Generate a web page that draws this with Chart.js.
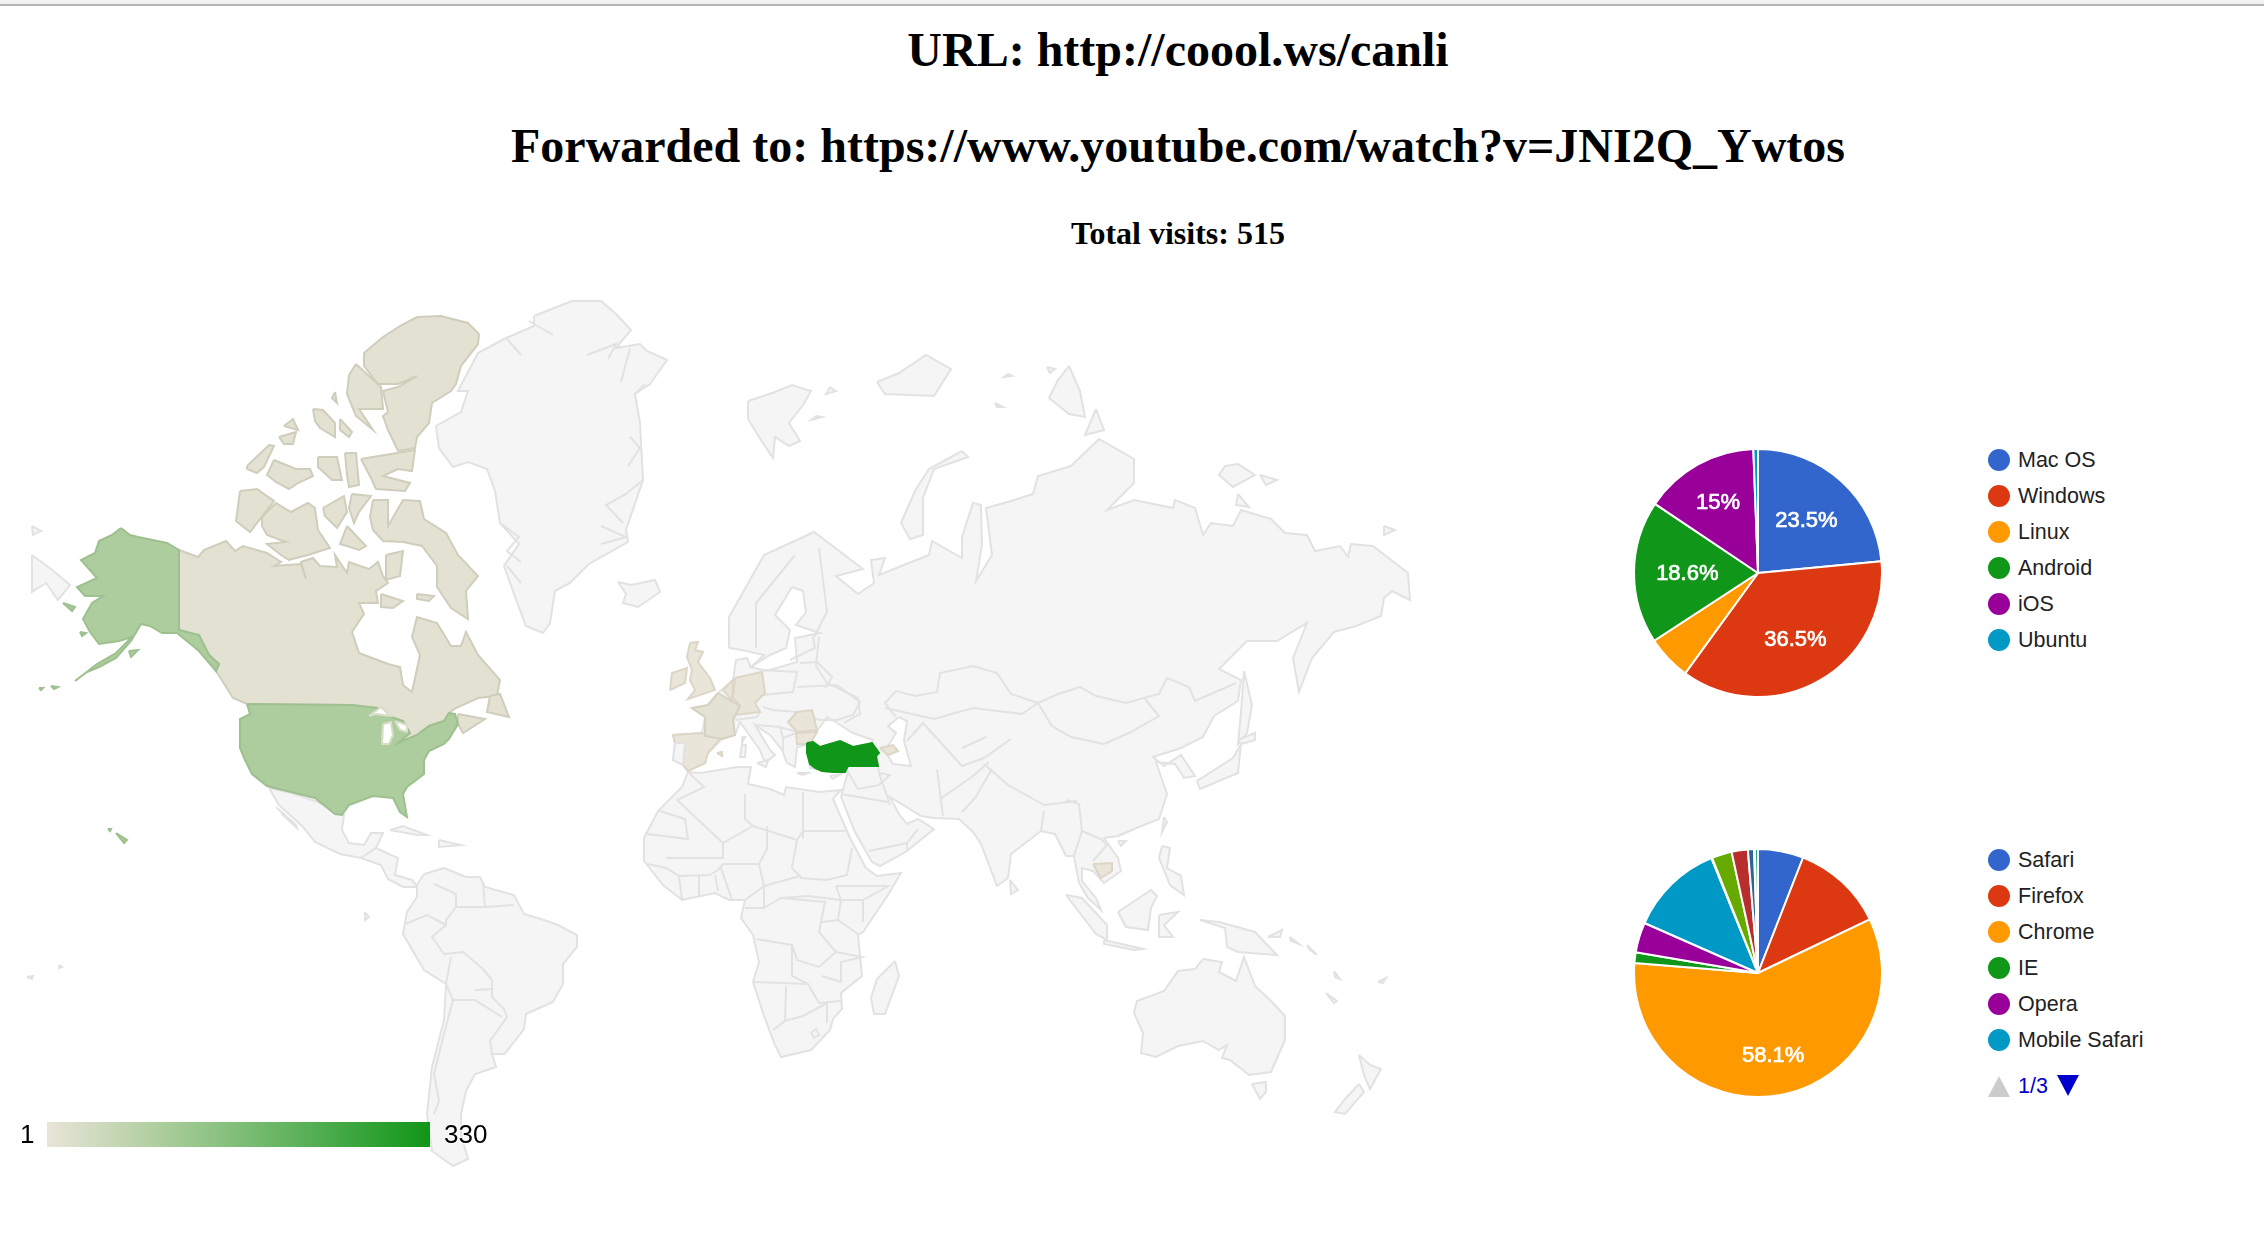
<!DOCTYPE html>
<html>
<head>
<meta charset="utf-8">
<title>coool.ws/canli</title>
<script src="https://cdn.jsdelivr.net/npm/chart.js@4"></script>
<style>
  html, body { margin: 0; padding: 0; background: #fff; }
  body { position: relative; width: 2264px; height: 1244px; overflow: hidden; }
  .topline { position: absolute; left: 0; top: 0; width: 2264px; height: 4px; background: #f1f1f1; border-bottom: 2px solid #b5b5b5; }
  .heading { position: absolute; left: 0; width: 2356px; text-align: center; font-family: "Liberation Serif", serif; font-weight: bold; color: #000; white-space: nowrap; }
  canvas { position: absolute; display: block; }
  .legend { position: absolute; left: 1988px; font: 21.5px "Liberation Sans", sans-serif; color: #222; }
  .legend-item { position: absolute; left: 0; height: 36px; display: flex; align-items: center; white-space: nowrap; }
  .legend-swatch { width: 22px; height: 22px; border-radius: 50%; margin-right: 8px; }
  .pager { position: absolute; left: 1988px; top: 1073px; height: 28px; font: 21.5px "Liberation Sans", sans-serif; color: #0000cc; }
  .tri { position: absolute; width: 0; height: 0; border-left: 11px solid transparent; border-right: 11px solid transparent; }
  .scale-bar { position: absolute; left: 47px; top: 1122px; width: 383px; height: 25px; background: linear-gradient(to right, #e9e4d9, #b0cfa0 28%, #74ba6e 55%, #109618); }
  .scale-num { position: absolute; top: 1119px; font: 26px "Liberation Sans", sans-serif; color: #000; line-height: 30px; text-shadow: 0 0 3px #fff, 0 0 3px #fff, 0 0 3px #fff; }
</style>
</head>
<body>
<div class="topline"></div>
<div class="heading" style="top:22px;font-size:48px">URL: http://coool.ws/canli</div>
<div class="heading" style="top:118px;font-size:48px">Forwarded to: https://www.youtube.com/watch?v=JNI2Q_Ywtos</div>
<div class="heading" style="top:215px;font-size:32px">Total visits: 515</div>

<canvas id="map" width="1420" height="900" style="left:0;top:280px"></canvas>
<div class="scale-num" style="left:20px">1</div>
<div class="scale-bar"></div>
<div class="scale-num" style="left:444px">330</div>

<canvas id="osPie" width="250" height="250" style="left:1633px;top:448px"></canvas>
<div class="legend" id="osLegend"></div>
<canvas id="browserPie" width="250" height="250" style="left:1633px;top:848px"></canvas>
<div class="legend" id="browserLegend"></div>
<div class="pager">
  <div class="tri" style="left:0;top:3px;border-bottom:21px solid #ccc"></div>
  <span style="position:absolute;left:30px;top:1px">1/3</span>
  <div class="tri" style="left:69px;top:2px;border-top:21px solid #0000cc"></div>
</div>

<script>
// pie values
const osLabels = ["Mac OS", "Windows", "Linux", "Android", "iOS", "Ubuntu"];
const osValues = [23.5, 36.5, 5.8, 18.6, 15, 0.6];
const browserLabels = ["Safari", "Firefox", "Chrome", "IE", "Opera", "Mobile Safari"];
const browserValues = [5.9, 11.9, 58.1, 1.4, 3.9, 12.2, 0.1, 2.6, 2.1, 0.8, 0.1, 0.4];
const PIE_COLORS = ["#3366cc", "#dc3912", "#ff9900", "#109618", "#990099", "#0099c6",
  "#dd4477", "#66aa00", "#b82e2e", "#316395", "#994499", "#22aa99"];

// map outlines, in map units (same grid as the picture)
const alaska = [[121,528],[130,535],[138,537],[167,543],[179,550],[179,630],[199,635],[209,655],[219,664],[216,671],[199,651],[177,633],[162,633],[150,626],[141,624],[131,641],[116,658],[99,667],[87,672],[75,681],[97,664],[116,653],[132,637],[119,641],[99,644],[90,632],[83,619],[92,603],[103,596],[85,596],[77,587],[97,578],[81,560],[95,553],[99,541],[112,535]];
const usa = [[247,704],[352,705],[377,708],[388,716],[403,721],[410,733],[398,743],[417,735],[429,726],[444,721],[449,713],[455,714],[458,724],[449,739],[444,744],[429,751],[424,760],[424,774],[407,787],[403,794],[407,817],[400,812],[393,798],[373,796],[349,805],[342,815],[335,814],[315,798],[291,792],[267,786],[252,774],[245,760],[240,748],[240,719],[250,714]];
const usaIslands = [
  [[129,651],[138,650],[131,657]], [[63,603],[75,607],[72,611]], [[39,688],[43,688],[41,690]],
  [[51,686],[58,687],[54,689]], [[80,632],[86,633],[82,636]],
  [[116,833],[127,840],[124,843]], [[108,829],[111,829],[110,831]],
];
const canadaMain = [[179,550],[198,557],[204,550],[226,541],[235,551],[243,546],[267,553],[281,562],[274,566],[301,564],[306,579],[301,562],[313,558],[320,566],[337,567],[335,555],[347,573],[349,562],[369,569],[378,562],[383,576],[388,583],[376,591],[378,603],[359,603],[364,614],[352,632],[359,653],[388,664],[400,667],[403,685],[412,692],[420,655],[412,637],[417,617],[437,623],[451,646],[461,646],[466,632],[478,655],[500,680],[497,696],[478,698],[456,708],[449,713],[444,721],[429,726],[417,735],[398,743],[410,733],[403,721],[388,716],[377,708],[352,705],[247,704],[233,698],[216,671],[219,664],[209,655],[199,635],[179,630]];
const canadaIslands = [
  [[417,317],[441,316],[468,323],[479,334],[478,344],[461,366],[456,384],[451,391],[432,403],[429,423],[417,437],[415,448],[398,451],[388,430],[383,416],[388,412],[383,391],[398,387],[417,376],[398,384],[378,384],[364,366],[364,353],[383,337],[400,326]],
  [[356,364],[369,376],[381,387],[383,409],[359,409],[373,430],[356,416],[347,394],[349,375]],
  [[335,392],[337,403],[332,398]],
  [[313,409],[323,410],[335,423],[335,437],[320,428],[315,421]],
  [[340,419],[352,432],[349,437],[340,430]],
  [[284,426],[293,419],[298,430]],
  [[279,437],[296,432],[293,444],[284,444]],
  [[247,466],[269,445],[274,446],[264,467],[257,473],[247,469]],
  [[274,460],[296,469],[310,469],[313,476],[298,483],[289,489],[276,482],[267,475]],
  [[318,457],[337,457],[342,480],[332,480],[318,467]],
  [[345,453],[356,453],[359,485],[349,487],[347,475]],
  [[361,459],[415,450],[412,471],[398,469],[383,476],[410,483],[405,491],[376,489],[371,478]],
  [[240,491],[257,489],[274,501],[250,532],[236,521]],
  [[262,517],[276,503],[291,512],[308,503],[315,508],[318,530],[330,548],[308,555],[289,560],[281,555],[267,544],[286,542],[267,535],[262,526]],
  [[323,508],[344,496],[347,512],[337,528],[325,516]],
  [[352,494],[371,496],[359,512],[354,523],[349,508]],
  [[347,526],[366,546],[359,550],[347,546],[340,544]],
  [[373,500],[388,500],[388,526],[403,500],[420,501],[424,519],[446,533],[458,555],[478,576],[466,591],[468,619],[451,608],[437,587],[437,566],[422,546],[403,542],[383,541],[373,530],[370,517]],
  [[386,555],[403,551],[400,576],[386,580]],
  [[381,594],[403,601],[393,608],[381,607]],
  [[417,594],[434,596],[429,601],[417,599]],
  [[458,714],[485,719],[463,733],[458,724]],
  [[490,696],[500,694],[509,717],[487,712]],
];
const greatLakes = [
  [[369,716],[381,707],[390,716],[376,714]],
  [[383,724],[391,722],[393,735],[389,744],[382,744]],
  [[395,721],[407,725],[407,732],[400,730]],
];
const greenland = [[534,316],[572,301],[601,301],[616,314],[631,330],[616,348],[640,344],[647,351],[667,360],[650,384],[635,394],[640,423],[643,480],[626,530],[628,542],[589,564],[570,583],[555,591],[550,623],[543,633],[526,626],[514,594],[504,566],[519,544],[500,523],[495,491],[487,469],[468,462],[453,467],[439,448],[436,426],[461,412],[468,391],[458,391],[478,353],[504,339],[534,326]];
const iceland = [[618,582],[631,585],[655,580],[660,592],[638,607],[623,603],[626,594]];
const mexico = [[269,788],[291,793],[318,802],[337,813],[344,815],[342,830],[349,843],[364,845],[371,833],[383,833],[376,848],[366,857],[361,858],[340,854],[315,842],[303,827],[279,805]];
const centralAmerica = [[361,858],[376,848],[398,858],[395,875],[412,880],[418,887],[403,887],[388,879],[381,865]];
const southAmerica = [[444,868],[466,877],[480,877],[485,887],[514,895],[524,914],[541,919],[558,925],[577,935],[577,947],[563,964],[563,984],[553,1002],[526,1014],[524,1029],[507,1051],[504,1054],[492,1054],[496,1067],[475,1074],[466,1091],[461,1114],[461,1134],[468,1159],[453,1166],[432,1151],[427,1114],[432,1067],[444,1020],[446,984],[424,970],[403,934],[407,912],[417,897],[417,885],[424,874]];
const eurasia = [[729,648],[729,617],[764,555],[814,532],[863,569],[836,576],[858,594],[874,583],[871,560],[885,558],[879,575],[929,555],[932,541],[962,558],[962,537],[973,503],[981,505],[982,545],[976,581],[992,555],[986,508],[1011,501],[1033,494],[1038,476],[1071,466],[1099,439],[1134,459],[1134,483],[1107,510],[1134,500],[1173,508],[1175,500],[1195,508],[1203,535],[1211,523],[1233,526],[1241,510],[1271,519],[1285,533],[1307,535],[1315,551],[1340,546],[1348,557],[1351,544],[1373,546],[1408,573],[1410,600],[1392,591],[1384,598],[1381,616],[1356,626],[1334,632],[1312,658],[1299,692],[1293,658],[1307,623],[1277,641],[1247,641],[1219,669],[1241,680],[1238,701],[1214,716],[1203,737],[1181,748],[1153,757],[1164,766],[1181,755],[1195,776],[1184,778],[1175,764],[1156,762],[1167,794],[1159,819],[1134,829],[1118,836],[1104,838],[1118,858],[1121,871],[1104,883],[1093,871],[1082,868],[1082,881],[1096,898],[1101,910],[1088,898],[1079,883],[1074,856],[1066,856],[1055,834],[1041,831],[1011,854],[1008,878],[997,886],[981,844],[973,832],[959,819],[934,818],[921,816],[890,797],[899,814],[907,824],[918,819],[934,829],[907,851],[880,866],[872,862],[855,832],[841,797],[848,772],[810,768],[807,745],[797,747],[795,767],[787,763],[782,750],[770,735],[755,725],[770,750],[775,755],[765,763],[760,750],[740,722],[735,735],[722,739],[708,753],[705,763],[688,771],[683,765],[673,760],[675,743],[673,735],[702,733],[705,717],[692,708],[708,705],[718,693],[733,680],[736,660],[747,658],[751,667],[764,655],[742,650]];
const africa = [[688,772],[701,773],[737,767],[751,767],[748,784],[770,789],[784,795],[786,787],[819,792],[841,790],[833,799],[850,838],[866,868],[877,876],[901,873],[888,895],[863,932],[858,935],[862,976],[841,993],[842,1009],[833,1019],[830,1030],[811,1050],[781,1057],[775,1045],[764,1016],[753,982],[759,962],[753,935],[741,918],[745,900],[729,900],[715,893],[682,900],[663,885],[644,861],[644,838],[658,811],[682,787]];
const australia = [[1203,959],[1222,962],[1219,972],[1236,981],[1244,957],[1255,986],[1271,1001],[1285,1016],[1285,1040],[1271,1072],[1249,1075],[1230,1060],[1222,1058],[1227,1045],[1219,1050],[1203,1041],[1178,1046],[1156,1057],[1141,1053],[1143,1033],[1134,1013],[1137,1001],[1164,991],[1178,971],[1195,969]];
const otherIslands = [
  [[32,555],[51,569],[70,585],[58,600],[46,583],[32,592]], [[32,526],[41,531],[33,535]],
  [[390,830],[403,826],[427,835],[417,835]], [[439,840],[461,845],[439,847]],
  [[365,912],[369,917],[365,920]], [[27,977],[33,976],[32,979]], [[59,965],[62,967],[59,968]],
  [[748,401],[775,392],[792,385],[811,391],[803,405],[789,423],[800,441],[789,446],[775,437],[773,458],[759,437],[748,419]],
  [[877,382],[899,373],[926,355],[951,369],[934,396],[885,394]],
  [[1069,366],[1080,391],[1085,417],[1069,414],[1049,398],[1058,380]],
  [[1096,409],[1104,430],[1085,435]],
  [[962,451],[968,457],[934,469],[923,498],[923,535],[910,539],[901,523],[915,491],[929,469]],
  [[1225,466],[1238,464],[1255,475],[1233,487],[1219,475]], [[1260,475],[1277,480],[1266,485]],
  [[1384,526],[1395,530],[1384,535]], [[830,387],[836,391],[826,394]], [[1047,367],[1055,369],[1050,373]],
  [[816,416],[822,417],[811,420]], [[1008,374],[1012,376],[1004,377]], [[995,403],[1003,407],[997,407]],
  [[1238,494],[1249,507],[1236,505]],
  [[1244,671],[1252,705],[1247,733],[1238,744],[1241,712]],
  [[1238,740],[1255,733],[1255,740],[1241,744]],
  [[1241,744],[1238,773],[1200,789],[1197,781],[1233,758]],
  [[1164,817],[1167,822],[1162,832]], [[1118,841],[1126,841],[1121,846]],
  [[1162,846],[1170,848],[1167,868],[1181,876],[1184,895],[1170,885],[1159,858]],
  [[1118,912],[1151,890],[1157,896],[1151,908],[1148,930],[1126,927]],
  [[1066,895],[1082,898],[1107,925],[1107,940],[1096,934]],
  [[1104,940],[1143,949],[1134,950],[1104,944]],
  [[1159,915],[1178,912],[1164,925],[1173,937],[1159,937]],
  [[1200,920],[1219,922],[1255,932],[1277,955],[1263,954],[1238,952],[1227,947],[1225,928]],
  [[1268,937],[1282,930],[1280,937]], [[1290,937],[1299,944],[1291,941]], [[1307,945],[1317,955],[1310,950]],
  [[1010,880],[1018,890],[1011,894]],
  [[895,961],[899,976],[885,1014],[874,1014],[871,998],[877,979]],
  [[1252,1084],[1266,1082],[1266,1092],[1260,1099]],
  [[1359,1055],[1370,1065],[1381,1069],[1370,1089],[1364,1075]],
  [[1359,1084],[1364,1092],[1345,1114],[1335,1112],[1345,1099]],
  [[1326,993],[1337,1001],[1334,1003]], [[1378,982],[1386,978],[1383,983]], [[1334,971],[1340,979],[1335,977]],
  [[757,763],[768,760],[766,767]], [[742,745],[746,745],[745,757],[740,757]], [[742,737],[745,737],[742,743]],
  [[797,773],[808,773],[803,775]], [[830,776],[841,774],[833,779]],
];
const innerSeas = [
  [[792,587],[803,591],[806,612],[796,625],[820,633],[795,638],[797,662],[767,671],[751,667],[770,655],[786,648],[790,630],[775,615]],
  [[820,727],[827,717],[837,723],[853,733],[873,740],[870,744],[853,747],[840,741],[820,747],[813,742],[812,735]],
  [[899,717],[907,721],[904,741],[911,766],[893,764],[885,751],[896,733],[888,726]],
];
const uk = [[690,643],[698,642],[695,650],[703,652],[698,662],[710,678],[715,690],[688,699],[695,690],[690,680],[692,670],[687,657]];
const ireland = [[670,690],[672,673],[687,668],[685,683]];
const france = [[718,693],[740,706],[733,720],[735,735],[722,739],[705,736],[705,717],[692,708],[708,705]];
const benelux = [[723,690],[733,680],[732,700]];
const germany = [[735,678],[762,672],[765,693],[755,703],[760,712],[735,715],[740,706],[733,698]];
const spain = [[673,735],[702,733],[720,739],[708,753],[705,763],[688,771],[683,765],[685,743],[675,743]];
const portugal = [[675,743],[685,743],[683,765],[673,760]];
const romania = [[797,712],[812,710],[817,730],[797,732],[788,722]];
const bulgaria = [[796,733],[817,732],[810,744],[797,744]];
const caucasus = [[880,748],[893,745],[898,751],[888,755]];
const cambodia = [[1093,864],[1112,863],[1112,871],[1101,878]];
const balearic = [[717,753],[722,752],[722,756]];
const turkey = [[807,743],[813,742],[820,747],[840,741],[853,747],[872,743],[879,753],[876,756],[878,766],[848,766],[845,772],[833,772],[822,771],[815,768],[810,764],[807,753]];

// country borders and fjords that are only lines
const greenlandLines = [
  [[529,321],[553,335]], [[507,339],[521,355]], [[587,355],[616,344],[608,359]], [[630,348],[621,382]],
  [[635,394],[645,384]], [[630,437],[640,448],[628,466]], [[643,480],[626,494],[606,505],[623,523]],
  [[601,526],[626,537],[601,544]], [[500,523],[519,537],[507,551],[521,562]], [[507,566],[521,583]],
];
const americaBorders = [
  [[276,807],[296,825],[297,828],[281,813]],
  [[434,884],[456,894],[456,907],[446,920],[446,925],[432,937],[444,954],[463,952],[483,969],[492,980],[492,997],[504,1009],[507,1017],[490,1041],[492,1054]],
  [[456,907],[485,907],[483,884]], [[485,907],[514,905]],
  [[405,924],[427,915],[446,925]],
  [[446,984],[451,957]],
  [[446,984],[453,1000],[444,1034],[434,1074],[439,1101],[434,1114]],
  [[453,1000],[475,1000],[502,1017]],
  [[475,990],[492,989]],
];
const africaBorders = [
  [[677,800],[723,843],[753,826],[797,840],[803,831],[847,831]],
  [[803,792],[803,839]],
  [[745,794],[745,819],[753,826]],
  [[677,800],[704,787],[688,772]],
  [[647,834],[688,839],[685,819],[660,811]],
  [[723,843],[723,858],[666,858]],
  [[767,826],[767,849],[759,864],[723,864],[718,870]],
  [[797,840],[792,868],[800,876],[764,886],[759,864]],
  [[852,848],[847,875],[827,880],[800,878]],
  [[764,886],[764,908],[745,908]],
  [[836,886],[841,900],[863,900],[888,886],[836,886]],
  [[781,898],[825,902],[819,932],[836,952],[819,967],[797,960],[792,945],[756,939]],
  [[764,908],[781,898],[808,896],[841,900]],
  [[841,900],[838,920],[858,934]], [[822,922],[838,920]], [[863,900],[863,922]],
  [[836,952],[862,957],[841,962],[841,982],[822,976]],
  [[753,982],[808,984],[819,1003],[841,1001]],
  [[792,945],[792,976],[808,984]],
  [[786,986],[785,1021],[773,1030]],
  [[785,1021],[803,1016],[827,1003],[827,1023]],
  [[811,1033],[816,1029],[819,1035],[814,1038],[811,1033]],
  [[647,864],[666,868],[679,876],[682,900]],
  [[679,876],[710,875],[718,870]],
  [[699,876],[699,896]], [[715,875],[718,891]], [[721,868],[732,900]], [[745,900],[764,886]],
];
const asiaBorders = [
  [[819,637],[816,666],[827,683],[858,698],[860,714],[844,723]],
  [[896,717],[885,703],[896,691],[915,696],[937,692],[940,673],[973,666],[997,673],[1011,694],[1038,703],[1058,694],[1080,687],[1096,696],[1126,703],[1159,694],[1167,678],[1189,687],[1195,701],[1236,683]],
  [[1038,703],[1052,726],[1071,737],[1104,744],[1129,733],[1159,716],[1145,699]],
  [[885,708],[934,719],[973,708],[1022,714],[1038,703]],
  [[907,741],[923,723],[962,766],[984,758],[1011,739]],
  [[986,737],[962,748]],
  [[937,769],[943,816]],
  [[879,773],[890,805]],
  [[940,799],[973,776],[989,762]],
  [[984,764],[1008,785],[1044,805],[1077,801]],
  [[992,769],[975,798],[962,812]],
  [[1044,811],[1041,831]], [[1066,800],[1079,804],[1082,831],[1074,856]],
  [[1082,831],[1101,839],[1107,845],[1093,861]],
  [[841,794],[888,802]], [[858,789],[879,785]],
  [[869,851],[907,843],[918,829]], [[907,851],[907,843]],
  [[848,772],[858,789]], [[878,766],[879,773],[890,775],[879,785]],
  [[1134,829],[1118,836]],
];
const europeBorders = [
  [[819,548],[827,612],[814,637]],
  [[795,555],[756,603],[756,648]],
  [[762,695],[793,692],[797,672],[763,670]],
  [[797,687],[837,685],[860,702],[853,715],[837,720],[820,720],[797,712],[773,710],[763,707]],
  [[800,663],[817,662],[832,677],[825,688]],
  [[757,725],[780,727],[797,732]],
  [[780,727],[783,738],[783,753]],
  [[783,738],[796,733]],
  [[735,720],[757,717],[760,712]],
  [[790,660],[815,648],[813,637]],
];

const LAND = { fill: "#f5f5f5", line: "#e2e2e2" };
const CANADA = { fill: "#e3e1d2", line: "#cfcdbc" };
const FRANCE = { fill: "#e4e2d4", line: "#d6d2c2" };
const PALE = { fill: "#eae5d9", line: "#ddd6c7" };
const USA = { fill: "#aecd9f", line: "#9dc08e" };
const TURKEY = { fill: "#109618", line: "#109618" };
const WATER = { fill: "#ffffff", line: "#e2e2e2" };

function regionDataset(points, style) {
  const ring = points.concat([points[0]]);
  return {
    data: ring.map(p => ({ x: p[0], y: p[1] })),
    showLine: true,
    fill: "shape",
    tension: 0,
    pointRadius: 0,
    borderWidth: 2,
    borderJoin: "round",
    borderColor: style.line,
    backgroundColor: style.fill,
  };
}

function borderDataset(points) {
  return {
    data: points.map(p => ({ x: p[0], y: p[1] })),
    showLine: true,
    fill: false,
    tension: 0,
    pointRadius: 0,
    borderWidth: 2,
    borderColor: LAND.line,
  };
}

function mapDatasets() {
  // listed bottom to top, chart.js paints the first dataset last so it gets reversed below
  const list = [];
  [greenland, iceland, mexico, centralAmerica, southAmerica, eurasia, africa, australia].forEach(r => list.push(regionDataset(r, LAND)));
  otherIslands.forEach(r => list.push(regionDataset(r, LAND)));
  innerSeas.forEach(r => list.push(regionDataset(r, WATER)));
  greenlandLines.concat(americaBorders, africaBorders, asiaBorders, europeBorders).forEach(b => list.push(borderDataset(b)));
  list.push(regionDataset(canadaMain, CANADA));
  canadaIslands.forEach(r => list.push(regionDataset(r, CANADA)));
  list.push(regionDataset(alaska, USA));
  list.push(regionDataset(usa, USA));
  usaIslands.forEach(r => list.push(regionDataset(r, USA)));
  greatLakes.forEach(r => list.push(regionDataset(r, { fill: "#ffffff", line: "#d8dcc8" })));
  [uk, ireland, benelux, germany, spain, romania, bulgaria, caucasus, cambodia, balearic].forEach(r => list.push(regionDataset(r, PALE)));
  list.push(regionDataset(portugal, LAND));
  list.push(regionDataset(france, FRANCE));
  list.push(regionDataset(turkey, TURKEY));
  return list.reverse();
}

new Chart(document.getElementById("map"), {
  type: "scatter",
  data: { datasets: mapDatasets() },
  options: {
    responsive: false,
    animation: false,
    events: [],
    layout: { padding: 0 },
    scales: {
      x: { type: "linear", display: false, min: 0, max: 1420 },
      y: { type: "linear", display: false, min: 280, max: 1180, reverse: true },
    },
    plugins: { legend: { display: false }, tooltip: { enabled: false } },
  },
});

// white percentages inside the big slices
const sliceLabels = {
  id: "sliceLabels",
  afterDatasetsDraw(chart, args, opts) {
    const ctx = chart.ctx;
    const values = chart.data.datasets[0].data;
    ctx.save();
    ctx.fillStyle = "#fff";
    ctx.strokeStyle = "#fff";
    ctx.lineWidth = 0.7;
    ctx.font = '22px "Liberation Sans", sans-serif';
    ctx.textAlign = "center";
    ctx.textBaseline = "middle";
    chart.getDatasetMeta(0).data.forEach((arc, i) => {
      if (values[i] < opts.minValue) return;
      const p = arc.getProps(["x", "y", "startAngle", "endAngle", "outerRadius"]);
      const mid = (p.startAngle + p.endAngle) / 2;
      const r = p.outerRadius * (opts.radii[i] || 0.6);
      const tx = p.x + Math.cos(mid) * r;
      const ty = p.y + Math.sin(mid) * r + 1;
      ctx.fillText(values[i] + "%", tx, ty);
      ctx.strokeText(values[i] + "%", tx, ty);
    });
    ctx.restore();
  },
};

function createPie(canvasId, labels, values, radii) {
  return new Chart(document.getElementById(canvasId), {
    type: "pie",
    data: {
      labels: labels,
      datasets: [{
        data: values,
        backgroundColor: PIE_COLORS,
        borderColor: "#fff",
        borderWidth: 2,
      }],
    },
    options: {
      responsive: false,
      animation: false,
      events: [],
      plugins: {
        legend: { display: false },
        tooltip: { enabled: false },
        sliceLabels: { minValue: 13, radii: radii },
      },
    },
    plugins: [sliceLabels],
  });
}

function fillLegend(legendId, labels, top) {
  const legendEl = document.getElementById(legendId);
  labels.forEach((label, i) => {
    const item = document.createElement("div");
    item.className = "legend-item";
    item.style.top = (top + i * 36 - 18) + "px";
    const swatch = document.createElement("span");
    swatch.className = "legend-swatch";
    swatch.style.background = PIE_COLORS[i];
    const text = document.createElement("span");
    text.textContent = label;
    item.appendChild(swatch);
    item.appendChild(text);
    legendEl.appendChild(item);
  });
}

createPie("osPie", osLabels, osValues, { 0: 0.58, 1: 0.61, 3: 0.57, 4: 0.66 });
createPie("browserPie", browserLabels, browserValues, { 2: 0.67 });
fillLegend("osLegend", osLabels, 460);
fillLegend("browserLegend", browserLabels, 860);
</script>
</body>
</html>
